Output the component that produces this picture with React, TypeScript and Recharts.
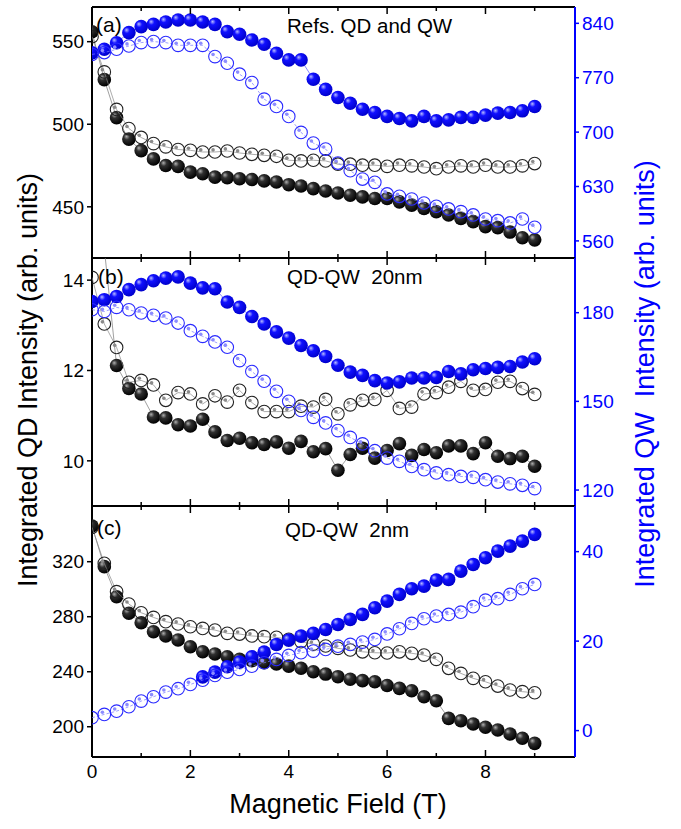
import React from 'react'
import { ComposedChart, Scatter, XAxis, YAxis } from 'recharts'

// magnetic field (T)
const field = [
  0, 0.25, 0.5, 0.75, 1, 1.25, 1.5, 1.75, 2, 2.25, 2.5, 2.75, 3, 3.25, 3.5, 3.75, 4, 4.25, 4.5,
  4.75, 5, 5.25, 5.5, 5.75, 6, 6.25, 6.5, 6.75, 7, 7.25, 7.5, 7.75, 8, 8.25, 8.5, 8.75, 9,
]

// (a) refs
const aQdFilled = [556, 527, 504, 491, 484, 479, 475, 474.5, 471, 470, 468, 467.7, 467, 466.5, 465.7, 465, 463.4, 462.6, 461, 459.6, 458.4, 457, 456, 455, 455, 453, 451, 449, 447, 445, 443, 441, 438, 437.4, 434.7, 431.3, 430]
const aQdOpen = [553, 531.7, 509, 497.4, 492, 488.3, 486.3, 484.7, 484.2, 483.2, 483.2, 483.8, 482.6, 481.8, 481.2, 480.6, 478.2, 477.8, 478.2, 477.8, 475.8, 475.8, 475.2, 475.2, 474.5, 475.2, 474.8, 474.1, 473.1, 474.1, 474.8, 474.1, 475.2, 474.1, 474.1, 474.8, 476.2]
const aQwFilled = [802, 806.6, 815, 828, 835.7, 838.7, 841.7, 844.2, 844.2, 841.7, 838.7, 829.3, 825.9, 818.6, 813, 801.5, 792.9, 792.9, 768, 755, 744.6, 737.2, 729.5, 725.3, 720.2, 717.6, 714.5, 720.2, 714.5, 715.8, 718.9, 719, 721.8, 724.4, 725.3, 727.4, 733]
const aQwOpen = [800, 802.4, 806.6, 810.8, 815.2, 816.5, 815.2, 811.7, 811.7, 811.7, 797.2, 788.6, 774.5, 763.8, 742.4, 733, 720.2, 699.6, 685.9, 678.2, 660.2, 650.3, 639.6, 635.4, 620.4, 617.4, 613.9, 608.8, 604.6, 601.1, 597.6, 593.4, 588.2, 586, 583.1, 588.2, 577.6]

// (b) QD-QW 20nm
const bQdFilled = [15.5, 14.7, 12.11, 11.6, 11.48, 10.97, 10.95, 10.8, 10.77, 10.92, 10.64, 10.45, 10.5, 10.4, 10.36, 10.42, 10.28, 10.43, 10.2, 10.27, 9.79, 10.14, 10.28, 10.06, 10.23, 10.38, 10.12, 10.25, 10.18, 10.33, 10.33, 10.16, 10.4, 10.1, 10.05, 10.1, 9.88]
const bQdOpen = [14.06, 13.03, 12.51, 11.74, 11.78, 11.68, 11.34, 11.51, 11.48, 11.26, 11.44, 11.3, 11.56, 11.29, 11.09, 11.09, 11.09, 11.21, 11.19, 11.36, 11.04, 11.24, 11.34, 11.36, 11.56, 11.16, 11.19, 11.48, 11.51, 11.63, 11.76, 11.56, 11.58, 11.74, 11.76, 11.6, 11.47]
const bQwFilled = [183.8, 184.4, 185.5, 187.8, 189.5, 190.8, 191.7, 192.1, 190, 188.4, 188.1, 183.6, 181.8, 178.7, 176.2, 173.5, 171.4, 168.9, 167.1, 165.2, 162.2, 159.9, 158.8, 157, 156.2, 156.6, 157.9, 157.9, 158.1, 160.1, 159.3, 160.7, 161.1, 161.5, 161.8, 163.3, 164.4]
const bQwOpen = [181, 180.4, 181.8, 181, 179.9, 179.1, 178.2, 176.5, 173.9, 172, 170.1, 168.3, 163.8, 160.1, 156.8, 153.4, 150, 146.9, 144.6, 142.7, 140.1, 137.8, 135.6, 133.3, 130.8, 129.7, 128, 126.9, 125.8, 125.2, 124.6, 124.3, 123.5, 122.7, 122.1, 121.6, 120.5]

// (c) QD-QW 2nm
const cQdFilled = [346, 316.4, 294.5, 282.5, 275.6, 269.1, 266, 263.1, 258.2, 254.5, 252.9, 250.9, 249, 248, 246.5, 245.6, 244.1, 242.5, 240, 238.3, 236.4, 234.5, 233.5, 232.7, 230, 227.9, 226.2, 221.8, 218.9, 206.1, 204.4, 202, 199.6, 197.6, 194.7, 191.6, 187.9]
const cQdOpen = [345, 318.8, 298.2, 289.2, 282.9, 279.5, 276.4, 274.7, 272.7, 271.5, 270.3, 267.9, 267.4, 266, 265.5, 265, 263.6, 261.8, 260.1, 258.7, 257, 255.8, 254.5, 253.8, 253.6, 254.5, 253.4, 252.1, 249, 242.5, 238.8, 235.2, 232.7, 229.6, 226.7, 225.5, 224.7]
// filled QW points are hidden below ~2 T (not visible in the picture)
const cQwFilled = [null, null, null, null, null, null, null, null, null, 12, 13.07, 14.27, 15.31, 16.51, 17.54, 19.26, 20.22, 21.12, 21.72, 22.61, 23.73, 24.85, 25.97, 27.46, 28.94, 30.44, 31.71, 32.29, 33.63, 33.79, 35.65, 37.14, 38.64, 40.12, 41.24, 42.35, 43.85]
const cQwOpen = [2.88, 3.62, 4.35, 5.33, 6.59, 7.57, 8.6, 9.36, 10.32, 11.28, 12.33, 13.07, 13.67, 14.41, 15.17, 15.91, 16.8, 17.41, 17.77, 18.14, 18.88, 19.26, 19.78, 20.38, 21.6, 22.77, 23.96, 25, 25.59, 25.96, 26.48, 27.69, 29.16, 29.48, 30.44, 31.71, 32.67]

const xTicks = [0, 1, 2, 3, 4, 5, 6, 7, 8, 9]
const FONT = '"Liberation Sans", Arial, sans-serif'
const BLUE = '#0000ff'
const R = 6.8

const pts = (vals: (number | null)[]) =>
  field.map((x, i) => ({ x, y: vals[i] })).filter((p) => p.y !== null)

const ball = (id: string) => (p: any) => (
  <circle cx={p.cx} cy={p.cy} r={R} fill={`url(#${id})`} />
)

const ring = (color: string, dot: string) => (p: any) => (
  <g>
    <circle cx={p.cx} cy={p.cy} r={R - 0.5} fill="none" stroke={color} strokeWidth={1.1} />
    <circle cx={p.cx - 1.9} cy={p.cy - 2.1} r={1.8} fill={dot} />
  </g>
)

const BottomTick = ({ x, y, payload, label }: any) => {
  const major = payload.value % 2 === 0
  return (
    <g>
      <line x1={x} x2={x} y1={y} y2={y - (major ? 7 : 4)} stroke="#000" strokeWidth={1.5} />
      {label && major && (
        <text x={x} y={y + 21} textAnchor="middle" fontSize={19} fontFamily={FONT} fill="#000">
          {payload.value}
        </text>
      )}
    </g>
  )
}

const TopTick = ({ x, y, payload }: any) => {
  const major = payload.value % 2 === 0
  return <line x1={x} x2={x} y1={y} y2={y + (major ? 7 : 4)} stroke="#000" strokeWidth={1.5} />
}

interface PanelProps {
  id: string
  top: number
  bottom: number
  qdDomain: [number, number]
  qwDomain: [number, number]
  qdTicks: number[]
  qwTicks: number[]
  qdFilled: (number | null)[]
  qdOpen: (number | null)[]
  qwFilled: (number | null)[]
  qwOpen: (number | null)[]
  labels?: boolean
}

function Panel(props: PanelProps) {
  const { id, top, bottom, labels } = props
  const pad = 30
  const ax = 2
  const h = bottom - top + pad * 2
  return (
    <div style={{ position: 'absolute', left: 0, top: top - pad }}>
      <ComposedChart width={681} height={h} margin={{ top: pad - ax, bottom: pad - ax, left: 42, right: 56 }}>
        <defs>
          <radialGradient id={`${id}k`} cx="0.4" cy="0.38" r="0.62" fx="0.32" fy="0.3">
            <stop offset="0%" stopColor="#b0b0b0" />
            <stop offset="35%" stopColor="#303030" />
            <stop offset="100%" stopColor="#000" />
          </radialGradient>
          <radialGradient id={`${id}b`} cx="0.4" cy="0.38" r="0.62" fx="0.32" fy="0.3">
            <stop offset="0%" stopColor="#b8bcff" />
            <stop offset="35%" stopColor="#1010ff" />
            <stop offset="100%" stopColor="#0000cc" />
          </radialGradient>
        </defs>
        <XAxis
          type="number"
          dataKey="x"
          domain={[0, 9.82]}
          ticks={xTicks}
          interval={0}
          height={ax}
          tickSize={0}
          tickMargin={0}
          allowDataOverflow
          axisLine={{ stroke: '#000', strokeWidth: 2 }}
          tickLine={false}
          tick={<BottomTick label={labels} />}
        />
        <XAxis
          xAxisId="top"
          orientation="top"
          type="number"
          dataKey="x"
          domain={[0, 9.82]}
          ticks={xTicks}
          interval={0}
          height={ax}
          tickSize={0}
          tickMargin={0}
          allowDataOverflow
          axisLine={{ stroke: '#000', strokeWidth: 2 }}
          tickLine={false}
          tick={<TopTick />}
        />
        <YAxis
          yAxisId="l"
          dataKey="y"
          type="number"
          width={50}
          domain={props.qdDomain}
          ticks={props.qdTicks}
          interval={0}
          allowDataOverflow
          tickSize={5}
          tickMargin={3}
          axisLine={{ stroke: '#000', strokeWidth: 2 }}
          tickLine={{ stroke: '#000', strokeWidth: 1.5 }}
          tick={{ fill: '#000', fontSize: 19, fontFamily: FONT }}
        />
        <YAxis
          yAxisId="r"
          orientation="right"
          dataKey="y"
          type="number"
          width={50}
          domain={props.qwDomain}
          ticks={props.qwTicks}
          interval={0}
          allowDataOverflow
          tickSize={4}
          tickMargin={3}
          axisLine={{ stroke: BLUE, strokeWidth: 2 }}
          tickLine={{ stroke: BLUE, strokeWidth: 1.5 }}
          tick={{ fill: BLUE, fontSize: 19, fontFamily: FONT, textAnchor: 'start' }}
        />
        <Scatter
          yAxisId="l"
          data={pts(props.qdFilled)}
          line={{ stroke: '#777', strokeWidth: 0.7 }}
          shape={ball(`${id}k`)}
          isAnimationActive={false}
        />
        <Scatter
          yAxisId="l"
          data={pts(props.qdOpen)}
          line={{ stroke: '#888', strokeWidth: 0.7 }}
          shape={ring('#222', '#8a8a8a')}
          isAnimationActive={false}
        />
        <Scatter
          yAxisId="r"
          data={pts(props.qwFilled)}
          line={{ stroke: '#5555ff', strokeWidth: 0.7 }}
          shape={ball(`${id}b`)}
          isAnimationActive={false}
        />
        <Scatter
          yAxisId="r"
          data={pts(props.qwOpen)}
          line={{ stroke: '#7777ff', strokeWidth: 0.7, strokeDasharray: '3 2' }}
          shape={ring('#2a2aff', '#8c8cff')}
          isAnimationActive={false}
        />
      </ComposedChart>
    </div>
  )
}

export default function App() {
  return (
    <div style={{ position: 'absolute', left: 0, top: 0, width: 681, height: 829, background: '#fff' }}>
      <Panel
        id="pa"
        top={7}
        bottom={258}
        qdDomain={[419, 571]}
        qwDomain={[538, 861]}
        qdTicks={[450, 500, 550]}
        qwTicks={[560, 630, 700, 770, 840]}
        qdFilled={aQdFilled}
        qdOpen={aQdOpen}
        qwFilled={aQwFilled}
        qwOpen={aQwOpen}
      />
      <Panel
        id="pb"
        top={258}
        bottom={506}
        qdDomain={[9.0, 14.49]}
        qwDomain={[114.6, 198.5]}
        qdTicks={[10, 12, 14]}
        qwTicks={[120, 150, 180]}
        qdFilled={bQdFilled}
        qdOpen={bQdOpen}
        qwFilled={bQwFilled}
        qwOpen={bQwOpen}
      />
      <Panel
        id="pc"
        top={506}
        bottom={757}
        qdDomain={[178, 360.5]}
        qwDomain={[-5.9, 50.2]}
        qdTicks={[200, 240, 280, 320]}
        qwTicks={[0, 20, 40]}
        qdFilled={cQdFilled}
        qdOpen={cQdOpen}
        qwFilled={cQwFilled}
        qwOpen={cQwOpen}
        labels
      />
      <svg width={681} height={829} style={{ position: 'absolute', left: 0, top: 0, pointerEvents: 'none' }}>
        <g fontFamily={FONT} fill="#000">
          <text x={96} y={32} fontSize={21}>(a)</text>
          <text x={287} y={33} fontSize={20.5}>Refs. QD and QW</text>
          <text x={98} y={284} fontSize={21}>(b)</text>
          <text x={287} y={284} fontSize={20.5} style={{ whiteSpace: 'pre' }}>QD-QW  20nm</text>
          <text x={97} y={535} fontSize={21}>(c)</text>
          <text x={285} y={537} fontSize={20.5} style={{ whiteSpace: 'pre' }}>QD-QW  2nm</text>
          <text x={338} y={813} fontSize={27} textAnchor="middle">Magnetic Field (T)</text>
          <text transform="translate(37,380) rotate(-90)" fontSize={27} textAnchor="middle">
            Integrated QD Intensity (arb. units)
          </text>
          <text
            transform="translate(654,374) rotate(-90)"
            fontSize={27}
            textAnchor="middle"
            fill={BLUE}
            style={{ whiteSpace: 'pre' }}
          >
            Integrated QW  Intensity (arb. units)
          </text>
        </g>
      </svg>
    </div>
  )
}
